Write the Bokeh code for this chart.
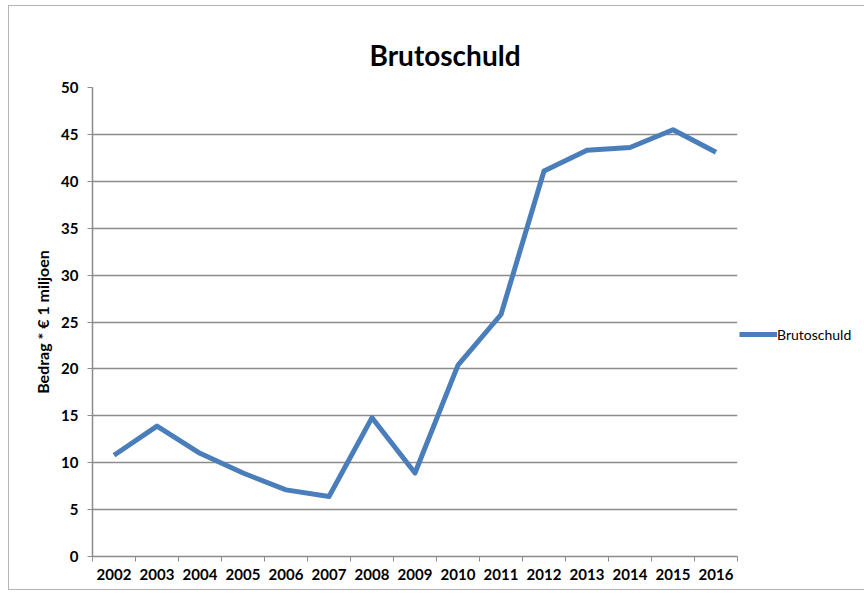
from bokeh.plotting import figure
from bokeh.models import FixedTicker, Legend, LegendItem, Range1d
from bokeh.embed import file_html
from bokeh.resources import INLINE

years = ["2002", "2003", "2004", "2005", "2006", "2007", "2008", "2009",
         "2010", "2011", "2012", "2013", "2014", "2015", "2016"]
brutoschuld = [10.8, 13.9, 11.0, 8.9, 7.1, 6.4, 14.8, 8.9,
               20.4, 25.8, 41.1, 43.3, 43.6, 45.5, 43.1]
y_ticks = [0, 5, 10, 15, 20, 25, 30, 35, 40, 45, 50]

xs = [i + 0.5 for i in range(len(years))]
boundaries = list(range(len(years) + 1))

FONT = "Lato"
GRID = "#8c8c8c"

p = figure(frame_width=645, frame_height=469, output_backend="svg",
           toolbar_location=None,
           x_range=Range1d(0, len(years)), y_range=Range1d(0, 50),
           min_border_left=83, min_border_top=81, min_border_bottom=33,
           min_border_right=10)
p.styles = {"border": "1px solid #b4b4b4", "margin-left": "8px", "margin-top": "5px"}
p.outline_line_color = None

p.title.text = "Brutoschuld"
p.title.align = "left"
p.title.text_font = FONT
p.title.text_font_size = "28px"
p.title.text_font_style = "bold"
p.title.text_color = "#000000"
p.title.offset = 277
p.title.standoff = 32

r = p.line(xs, brutoschuld, line_width=5, line_color="#4A7EBB", line_join="round")

# x axis: labels at centres, ticks at boundaries
p.xaxis.ticker = FixedTicker(ticks=xs, minor_ticks=boundaries)
p.xaxis.major_label_overrides = {x: y for x, y in zip(xs, years)}
p.xaxis.major_tick_out = 0
p.xaxis.major_tick_in = 0
p.xaxis.minor_tick_out = 5
p.xaxis.minor_tick_in = 0
p.xaxis.minor_tick_line_color = GRID
p.xaxis.axis_line_color = GRID
p.xaxis.axis_line_width = 1.5
p.xaxis.major_label_text_font = FONT
p.xaxis.major_label_text_font_style = "bold"
p.xaxis.major_label_text_font_size = "15px"
p.xaxis.major_label_text_color = "#000000"
p.xaxis.major_label_standoff = 7
p.xgrid.grid_line_color = None

p.yaxis.ticker = FixedTicker(ticks=y_ticks)
p.yaxis.minor_tick_line_color = None
p.yaxis.major_tick_out = 5
p.yaxis.major_tick_in = 0
p.yaxis.major_tick_line_color = GRID
p.yaxis.axis_line_color = GRID
p.yaxis.axis_line_width = 1.5
p.yaxis.major_label_text_font = FONT
p.yaxis.major_label_text_font_style = "bold"
p.yaxis.major_label_text_font_size = "15px"
p.yaxis.major_label_text_color = "#000000"
p.yaxis.major_label_standoff = 9
p.yaxis.axis_label = "Bedrag * € 1 miljoen"
p.yaxis.axis_label_text_font = FONT
p.yaxis.axis_label_text_font_style = "bold"
p.yaxis.axis_label_text_font_size = "16px"
p.yaxis.axis_label_text_color = "#000000"
p.yaxis.axis_label_standoff = 6
p.ygrid.grid_line_color = GRID
p.ygrid.grid_line_width = 1.5

legend = Legend(items=[LegendItem(label="Brutoschuld", renderers=[r])],
                location=(2, 212), border_line_color=None,
                background_fill_alpha=0, glyph_width=38, label_standoff=0,
                label_text_font=FONT, label_text_font_size="14px",
                label_text_color="#000000", padding=0, margin=0)
p.add_layout(legend, "right")

open("out.html", "w").write(file_html(p, INLINE))
